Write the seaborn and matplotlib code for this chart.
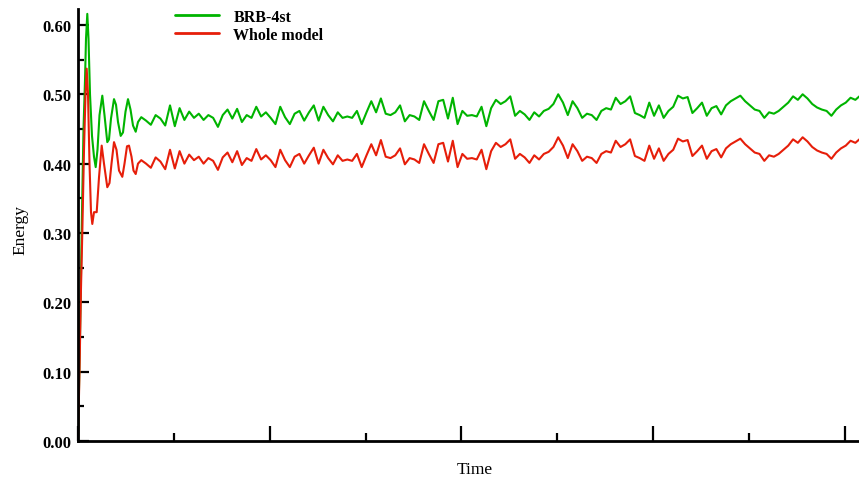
import numpy as np
import pandas as pd
import matplotlib
matplotlib.use("Agg")
import matplotlib.pyplot as plt
import seaborn as sns

# ---- data ----
series_names = ["BRB-4st", "Whole model"]
series_colors = ["#00b400", "#e61e0a"]

# start-up transient
green_t0 = [0.000, 0.0104, 0.0209, 0.0287, 0.0365, 0.0417, 0.0485, 0.0548, 0.0626, 0.0730,
            0.0834, 0.0923, 0.1017, 0.1122, 0.1268, 0.1382, 0.1528, 0.1617, 0.1721, 0.1878,
            0.1982, 0.2087, 0.2227, 0.2347, 0.2478, 0.2608, 0.2739, 0.2869, 0.3010, 0.3130]
green_v0 = [0.000, 0.150, 0.330, 0.450, 0.520, 0.580, 0.616, 0.580, 0.500, 0.440,
            0.410, 0.395, 0.420, 0.470, 0.498, 0.470, 0.431, 0.435, 0.465, 0.493,
            0.485, 0.460, 0.440, 0.445, 0.475, 0.493, 0.478, 0.455, 0.446, 0.460]
red_t0 = [0.000, 0.0078, 0.0156, 0.0224, 0.0313, 0.0391, 0.0454, 0.0522, 0.0600, 0.0678,
          0.0746, 0.0835, 0.0975, 0.1095, 0.1236, 0.1356, 0.1528, 0.1643, 0.1748, 0.1878,
          0.2008, 0.2139, 0.2311, 0.2426, 0.2556, 0.2660, 0.2791, 0.2895, 0.3010, 0.3130]
red_v0 = [0.000, 0.100, 0.220, 0.300, 0.420, 0.500, 0.537, 0.500, 0.400, 0.330,
          0.313, 0.330, 0.330, 0.380, 0.426, 0.400, 0.366, 0.372, 0.400, 0.431,
          0.420, 0.390, 0.381, 0.400, 0.425, 0.426, 0.410, 0.390, 0.385, 0.400]

# steady part, sampled every 0.025 time units from t = 0.33
steady_start, steady_step = 0.33, 0.025
green_steady = [
    0.467, 0.462, 0.456, 0.470, 0.465, 0.455, 0.484, 0.454, 0.480, 0.463,
    0.475, 0.466, 0.472, 0.463, 0.470, 0.466, 0.453, 0.470, 0.478, 0.465,
    0.479, 0.460, 0.470, 0.466, 0.482, 0.468, 0.474, 0.466, 0.457, 0.482,
    0.467, 0.457, 0.472, 0.476, 0.462, 0.474, 0.484, 0.462, 0.482, 0.470,
    0.461, 0.474, 0.466, 0.468, 0.466, 0.476, 0.457, 0.474, 0.490, 0.474,
    0.494, 0.472, 0.470, 0.474, 0.484, 0.461, 0.470, 0.468, 0.463, 0.490,
    0.476, 0.463, 0.490, 0.492, 0.465, 0.495, 0.457, 0.476, 0.469, 0.470,
    0.468, 0.482, 0.454, 0.480, 0.492, 0.486, 0.490, 0.497, 0.469, 0.476,
    0.471, 0.463, 0.474, 0.468, 0.476, 0.479, 0.486, 0.500, 0.488, 0.470,
    0.490, 0.480, 0.466, 0.472, 0.470, 0.463, 0.476, 0.480, 0.478, 0.495,
    0.486, 0.490, 0.497, 0.473, 0.470, 0.466, 0.488, 0.469, 0.484, 0.466,
    0.476, 0.482, 0.498, 0.494, 0.496, 0.473, 0.480, 0.488, 0.469, 0.480,
    0.483, 0.471, 0.484, 0.490, 0.494, 0.498, 0.490, 0.484, 0.478, 0.476,
    0.466, 0.474, 0.472, 0.476, 0.482, 0.488, 0.497, 0.492, 0.500, 0.494,
    0.486, 0.481, 0.478, 0.476, 0.469, 0.478, 0.484, 0.488, 0.495, 0.492,
    0.498]
red_steady = [
    0.405, 0.400, 0.394, 0.409, 0.403, 0.392, 0.420, 0.393, 0.418, 0.400,
    0.413, 0.405, 0.410, 0.400, 0.408, 0.404, 0.391, 0.409, 0.416, 0.402,
    0.418, 0.398, 0.408, 0.404, 0.421, 0.406, 0.412, 0.405, 0.395, 0.420,
    0.405, 0.395, 0.410, 0.414, 0.400, 0.412, 0.423, 0.400, 0.420, 0.408,
    0.399, 0.412, 0.404, 0.406, 0.404, 0.414, 0.395, 0.412, 0.428, 0.412,
    0.434, 0.410, 0.408, 0.412, 0.422, 0.399, 0.408, 0.406, 0.401, 0.428,
    0.414, 0.401, 0.428, 0.430, 0.403, 0.433, 0.395, 0.414, 0.407, 0.408,
    0.406, 0.420, 0.392, 0.418, 0.430, 0.424, 0.428, 0.435, 0.407, 0.414,
    0.409, 0.401, 0.412, 0.406, 0.414, 0.417, 0.424, 0.438, 0.426, 0.408,
    0.428, 0.418, 0.404, 0.410, 0.408, 0.401, 0.414, 0.418, 0.416, 0.433,
    0.424, 0.428, 0.435, 0.411, 0.408, 0.404, 0.426, 0.407, 0.422, 0.404,
    0.414, 0.420, 0.436, 0.432, 0.434, 0.411, 0.418, 0.426, 0.407, 0.418,
    0.421, 0.409, 0.422, 0.428, 0.432, 0.436, 0.428, 0.422, 0.416, 0.414,
    0.404, 0.412, 0.410, 0.414, 0.420, 0.426, 0.435, 0.430, 0.438, 0.432,
    0.424, 0.419, 0.416, 0.414, 0.407, 0.416, 0.422, 0.426, 0.433, 0.430,
    0.436]

y_ticks = [0.00, 0.10, 0.20, 0.30, 0.40, 0.50, 0.60]
y_tick_labels = ["0.00", "0.10", "0.20", "0.30", "0.40", "0.50", "0.60"]
x_major_ticks = [0, 1, 2, 3, 4]

# ---- build long table ----
steady_t = steady_start + steady_step * np.arange(len(green_steady))
frames = []
for name, t0, v0, vs in [(series_names[0], green_t0, green_v0, green_steady),
                         (series_names[1], red_t0, red_v0, red_steady)]:
    t = np.concatenate([t0, steady_t])
    v = np.concatenate([v0, vs])
    frames.append(pd.DataFrame({"Time": t, "Energy": v, "series": name}))
df = pd.concat(frames, ignore_index=True)

# ---- styling ----
sns.set_style("ticks")
plt.rcParams["font.family"] = ["Liberation Serif", "DejaVu Serif"]
plt.rcParams["text.color"] = "black"
plt.rcParams["axes.labelcolor"] = "black"
plt.rcParams["ytick.color"] = "black"
plt.rcParams["xtick.color"] = "black"

fig = plt.figure(figsize=(8.59, 4.85), dpi=100)
ax = fig.add_axes([78 / 859, 1 - 442 / 485, (859 - 78) / 859, (442 - 10) / 485])

sns.lineplot(data=df, x="Time", y="Energy", hue="series", hue_order=series_names,
             palette=series_colors, estimator=None, sort=False, linewidth=1.5, ax=ax)

ax.set_ylim(0, 0.623)
ax.set_xlim(0, 4.074)
ax.set_yticks(y_ticks)
ax.set_yticklabels(y_tick_labels)
ax.set_yticks(np.array(y_ticks[:-1]) + 0.05, minor=True)
ax.set_xticks(x_major_ticks)
ax.set_xticks(np.array(x_major_ticks[:-1]) + 0.5, minor=True)
ax.tick_params(axis="x", which="both", labelbottom=False, direction="in", width=1.6, color="black")
ax.tick_params(axis="x", which="major", length=11)
ax.tick_params(axis="x", which="minor", length=6)
ax.tick_params(axis="y", which="both", direction="in", width=1.6, color="black")
ax.tick_params(axis="y", which="major", length=8, pad=5)
ax.tick_params(axis="y", which="minor", length=4)
for lab in ax.get_yticklabels():
    lab.set_fontweight("bold")
    lab.set_fontsize(12)
    lab.set_color("black")

for s in ["top", "right"]:
    ax.spines[s].set_visible(False)
for s in ["left", "bottom"]:
    ax.spines[s].set_linewidth(2.0)
    ax.spines[s].set_color("black")

ax.set_ylabel("Energy", fontsize=12.5, color="black")
ax.set_xlabel("Time", fontsize=12.5, color="black")
ax.yaxis.set_label_coords(-0.063, 0.49)
ax.xaxis.set_label_coords(0.508, -0.046)
ax.xaxis.label.set_va("top")

leg = ax.legend(loc="upper left", bbox_to_anchor=((175 - 78) / 781, 1.0),
                frameon=False, handlelength=2.75, handletextpad=0.9,
                labelspacing=0.1, borderpad=0, borderaxespad=0,
                prop={"weight": "bold", "size": 11.5})
for line in leg.get_lines():
    line.set_linewidth(2.0)
for txt in leg.get_texts():
    txt.set_color("black")

fig.savefig("out.png", dpi=100)
